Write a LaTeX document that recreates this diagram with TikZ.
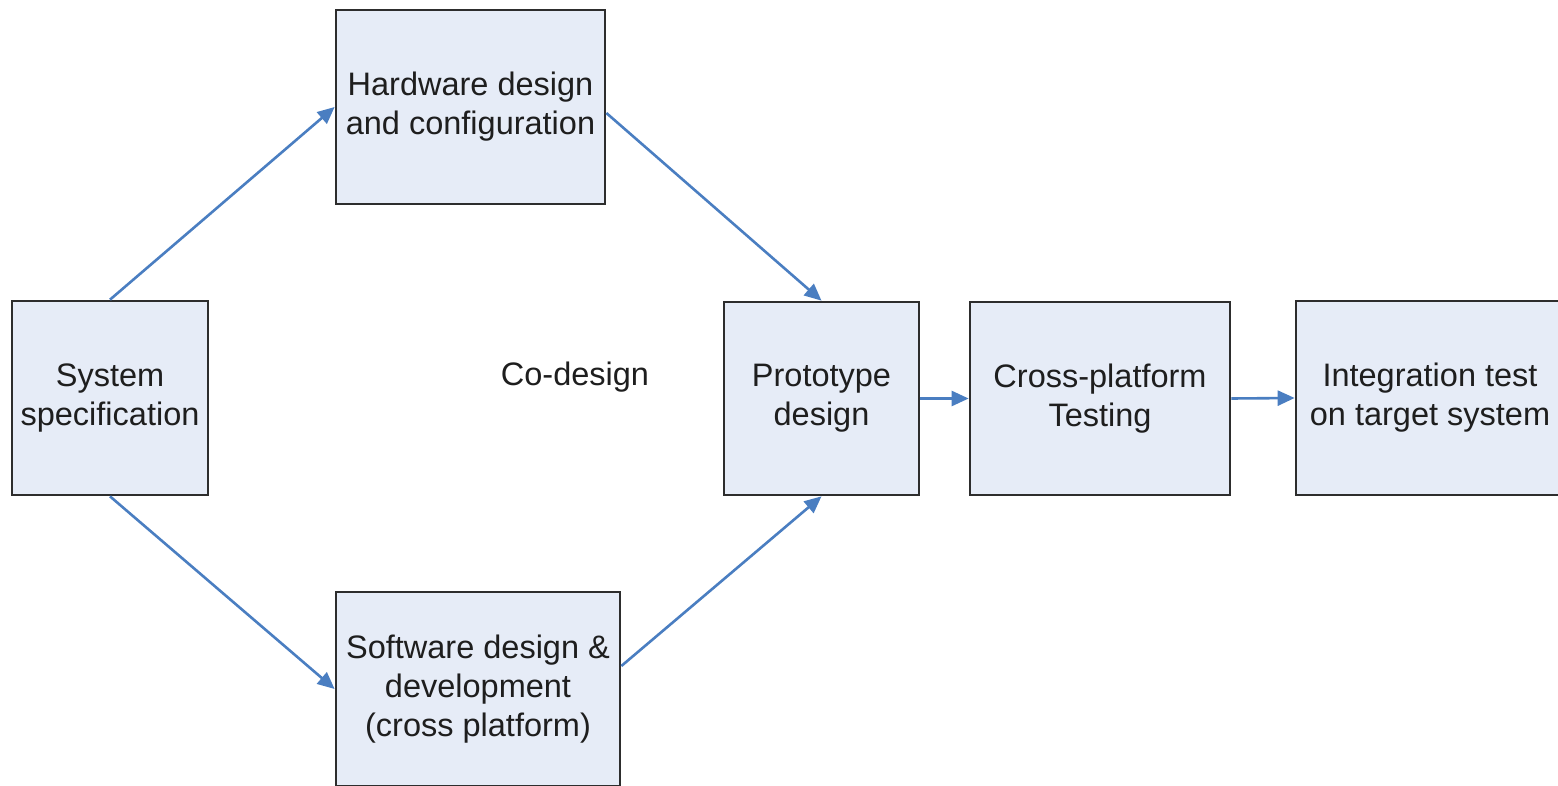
\documentclass[tikz,border=0pt]{standalone}
\usepackage{fontspec}
\setmainfont{Liberation Sans}
\usetikzlibrary{arrows.meta,calc}
\definecolor{boxfill}{RGB}{230,236,247}
\definecolor{boxline}{RGB}{45,45,45}
\definecolor{flow}{RGB}{74,126,193}
\definecolor{ink}{RGB}{30,30,30}
\begin{document}
\begin{tikzpicture}[x=1pt,y=-1pt,
  stage/.style={draw=boxline, line width=2.7pt, fill=boxfill, rectangle,
    inner sep=0pt, align=center, text=ink,
    font=\fontsize{32.5}{39}\selectfont},
  flowarrow/.style={draw=flow, line width=2.6pt,
    -{Triangle[length=17pt,width=15pt]}},
]
\useasboundingbox (0,0) rectangle (1558,786);

% process stages
\node[stage, minimum width=196pt, minimum height=194pt] (sys) at (110,398)
  {System\\specification};
\node[stage, minimum width=269pt, minimum height=194pt] (hw) at (470.5,107)
  {Hardware design\\and configuration};
\node[stage, minimum width=284pt, minimum height=194pt] (sw) at (478,689)
  {Software design \&\\development\\(cross platform)};
\node[stage, minimum width=195pt, minimum height=193pt] (proto) at (821.5,398.5)
  {Prototype\\design};
\node[stage, minimum width=260pt, minimum height=193pt] (cross) at (1100,398.5)
  {Cross-platform\\Testing};
\node[stage, minimum width=268pt, minimum height=194pt] (integ) at (1430,398)
  {Integration test\\on target system};

\node[text=ink, font=\fontsize{32.5}{39}\selectfont] (co) at (575,377) {Co-design};

% connectors
\coordinate (hwout) at ($(hw.east)+(0,6)$);
\coordinate (swout) at ($(sw.east)+(0,-23)$);
\draw[flowarrow] (sys.north) -- (hw.west);
\draw[flowarrow] (sys.south) -- (sw.west);
\draw[flowarrow] (hwout) -- (proto.north);
\draw[flowarrow] (swout) -- (proto.south);
\draw[flowarrow] (proto.east) -- (cross.west);
\draw[flowarrow] (cross.east) -- (integ.west);
\end{tikzpicture}
\end{document}
